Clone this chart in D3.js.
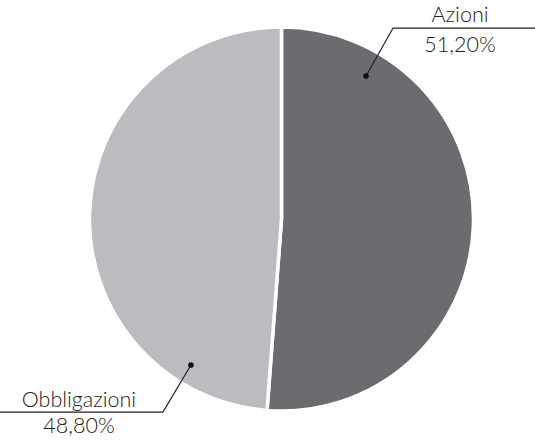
<!DOCTYPE html>
<html>
<head>
<meta charset="utf-8">
<script src="https://cdn.jsdelivr.net/npm/d3@7"></script>
<style>
  body { margin: 0; background: #fff; }
  text { font-family: Lato, "Open Sans", sans-serif; font-weight: 300; fill: #222; }
</style>
</head>
<body>
<div id="chart"></div>
<script>
// data
const categories = ["Azioni", "Obbligazioni"];
const values = [51.2, 48.8];
const valueLabels = ["51,20%", "48,80%"];
const colors = ["#6b6c70", "#bbbcc0"];

const w = 535, h = 441;
const cx = 281.5, cy = 219, r = 192;

const svg = d3.select("#chart").append("svg")
    .attr("width", w)
    .attr("height", h);

const g = svg.append("g")
    .attr("transform", `translate(${cx},${cy})`);

const pie = d3.pie().sort(null).value(d => d);
const arcs = pie(values);
const arc = d3.arc().innerRadius(0).outerRadius(r);

g.selectAll("path")
    .data(arcs)
    .enter().append("path")
    .attr("d", arc)
    .attr("fill", (d, i) => colors[i])
    .attr("stroke", "#fff")
    .attr("stroke-width", 3.5);

// label callouts: dot angle (deg from top), radius ratio, elbow offset, label x, line end
const callouts = [
  { ang: 30.6, rr: 0.865, ex: 27, ey: -48, lineTo: w, tx: 460, y1: 22, y2: 52 },
  { ang: 211.8, rr: 0.895, ex: -28, ey: 47, lineTo: 0, tx: 79, y1: 407, y2: 433 }
];

callouts.forEach((c, i) => {
  const a = c.ang * Math.PI / 180;
  const px = cx + Math.sin(a) * r * c.rr;
  const py = cy - Math.cos(a) * r * c.rr;
  const ex = px + c.ex, ey = py + c.ey;
  svg.append("polyline")
      .attr("points", `${px},${py} ${ex},${ey} ${c.lineTo},${ey}`)
      .attr("fill", "none")
      .attr("stroke", "#222")
      .attr("stroke-width", 1.2);
  svg.append("circle")
      .attr("cx", px).attr("cy", py).attr("r", 2.8)
      .attr("fill", "#111");
  svg.append("text")
      .attr("x", c.tx).attr("y", c.y1)
      .attr("text-anchor", "middle")
      .style("font-size", "21.5px")
      .text(categories[i]);
  svg.append("text")
      .attr("x", c.tx).attr("y", c.y2)
      .attr("text-anchor", "middle")
      .style("font-size", "21.5px")
      .text(valueLabels[i]);
});
</script>
</body>
</html>
